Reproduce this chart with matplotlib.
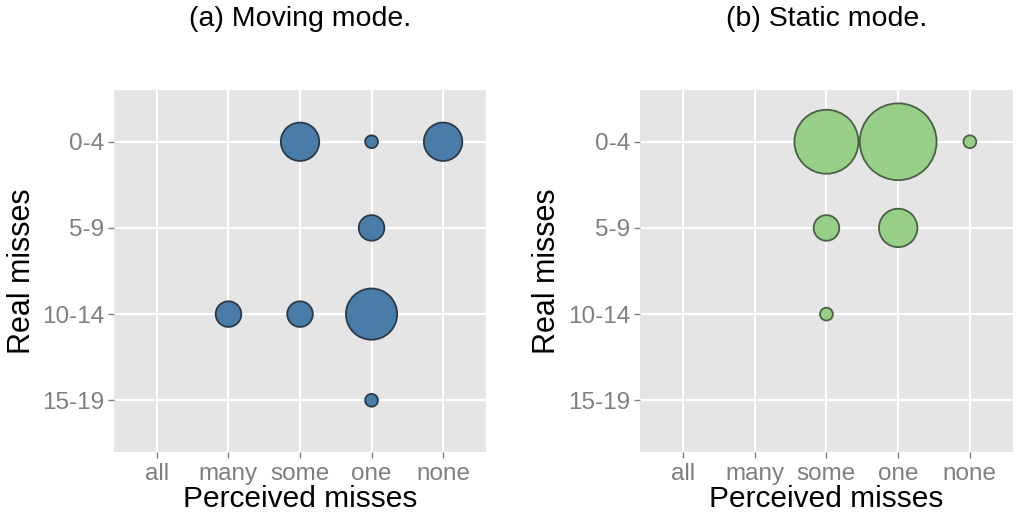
import numpy as np
import matplotlib
matplotlib.use("Agg")
import matplotlib.pyplot as plt

plt.rcParams["font.family"] = ["Liberation Sans", "DejaVu Sans"]

# --- Data ---
perceived = ["all", "many", "some", "one", "none"]
real = ["0-4", "5-9", "10-14", "15-19"]

# (perceived, real, count) for each mode
moving_x = ["some", "one", "none", "one", "many", "some", "one", "one"]
moving_y = ["0-4", "0-4", "0-4", "5-9", "10-14", "10-14", "10-14", "15-19"]
moving_n = [3, 1, 3, 2, 2, 2, 4, 1]

static_x = ["some", "one", "none", "some", "one", "some"]
static_y = ["0-4", "0-4", "0-4", "5-9", "5-9", "10-14"]
static_n = [5, 6, 1, 2, 3, 1]


def bubble_size(n):
    # radius grows linearly with count (~6.4 px per participant)
    d_pt = 2 * 6.4 * np.asarray(n) * 0.72
    return d_pt ** 2


def draw_panel(ax, xs, ys, ns, fill, edge, title):
    xi = [perceived.index(v) + 1 for v in xs]
    yi = [real.index(v) + 1 for v in ys]
    ax.set_facecolor("#e5e5e5")
    ax.scatter(xi, yi, s=bubble_size(ns), c=fill, edgecolors=edge,
               linewidths=1.3, zorder=3)
    ax.set_xlim(0.4, 5.6)
    ax.set_ylim(4.6, 0.4)
    ax.set_xticks(range(1, 6))
    ax.set_xticklabels(perceived)
    ax.set_yticks(range(1, 5))
    ax.set_yticklabels(real)
    ax.grid(True, color="white", linewidth=1.6, zorder=0)
    ax.set_axisbelow(True)
    for sp in ax.spines.values():
        sp.set_visible(False)
    ax.tick_params(colors="#7f7f7f", labelsize=17.5, length=4, width=1, pad=3)
    ax.tick_params(axis="x", pad=4)
    ax.set_xlabel("Perceived misses", fontsize=21.5, labelpad=0, va="top")
    ax.set_ylabel("Real misses", fontsize=22, labelpad=4)
    ax.set_title(title, fontsize=20.5, pad=46)


fig = plt.figure(figsize=(10.21, 5.18), dpi=100)
ax1 = fig.add_axes([0.1117, 0.1274, 0.3643, 0.6988])
ax2 = fig.add_axes([0.6268, 0.1274, 0.3653, 0.6988])

draw_panel(ax1, moving_x, moving_y, moving_n, "#4a7ca8", "#2b3a48",
           "(a) Moving mode.")
draw_panel(ax2, static_x, static_y, static_n, "#98cf88", "#4a6045",
           "(b) Static mode.")

fig.savefig("out.png", dpi=100)
